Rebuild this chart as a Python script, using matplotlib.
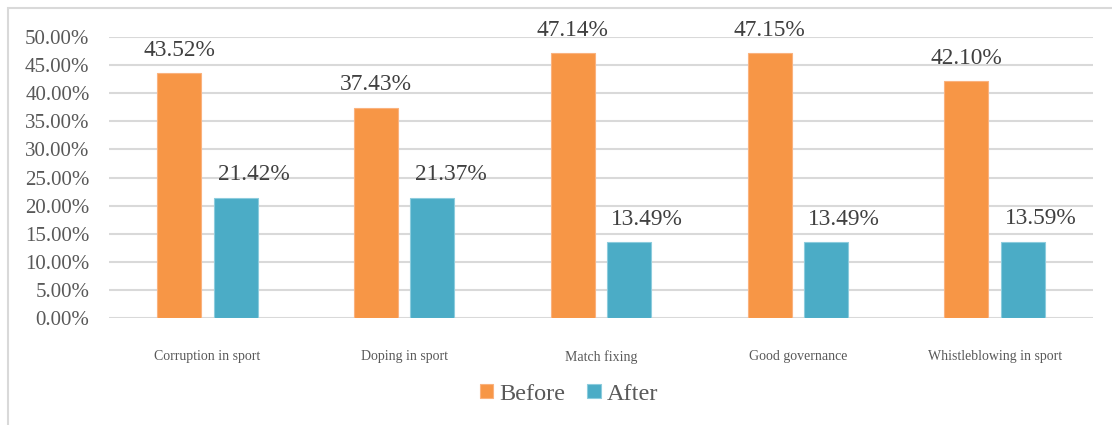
import numpy as np
import matplotlib.pyplot as plt
from matplotlib.patches import Rectangle
from matplotlib.ticker import FuncFormatter

categories = ["Corruption in sport", "Doping in sport", "Match fixing",
              "Good governance", "Whistleblowing in sport"]
before = [43.52, 37.43, 47.14, 47.15, 42.10]
after = [21.42, 21.37, 13.49, 13.49, 13.59]

c_before = "#F79646"
c_after = "#4BACC6"
grid_c = "#D9D9D9"
text_c = "#595959"

plt.rcParams['font.family'] = ['Liberation Serif', 'DejaVu Serif']

fig = plt.figure(figsize=(11.12, 4.25), dpi=100)
# chart frame (left and top edges visible)
fig.patches.append(Rectangle((8 / 1112, -0.1), 1.2, 1 - 8 / 425 + 0.1,
                             transform=fig.transFigure, fill=False,
                             edgecolor=grid_c, linewidth=1.5))

ax = fig.add_axes([109 / 1112, 1 - 318 / 425, 984 / 1112, 281 / 425])
x = np.arange(len(categories))
w = 0.224
off = 0.143
b1 = ax.bar(x - off, before, w, color=c_before, edgecolor="#FAB27E", linewidth=0.8,
            label="Before", zorder=3)
b2 = ax.bar(x + off, after, w, color=c_after, edgecolor="#8CCCDD", linewidth=0.8,
            label="After", zorder=3)

for xi, v in zip(x, before):
    ax.annotate(f"{v:.2f}%", (xi - off, v), xytext=(0, 9), textcoords="offset points",
                ha="center", va="bottom", fontsize=16.8, color="#404040")
for xi, v in zip(x, after):
    ax.annotate(f"{v:.2f}%", (xi + off, v), xytext=(13, 9), textcoords="offset points",
                ha="center", va="bottom", fontsize=16.8, color="#404040")

ax.set_xlim(-0.5, len(categories) - 0.5)
ax.set_ylim(0, 50)
ax.set_yticks(np.arange(0, 51, 5))
ax.yaxis.set_major_formatter(FuncFormatter(lambda v, p: f"{v:.2f}%"))
ax.grid(axis="y", color=grid_c, linewidth=1.5, zorder=0)
ax.set_xticks(x)
ax.set_xticklabels(categories, fontsize=10)
ax.tick_params(axis="x", length=0, pad=23, colors=text_c)
ax.tick_params(axis="y", length=0, pad=14, labelsize=15, colors=text_c)
for s in ax.spines.values():
    s.set_visible(False)

leg = fig.legend(handles=[b1, b2], loc="center", bbox_to_anchor=(569 / 1112, 1 - 394 / 425),
                 ncol=2, frameon=False, fontsize=17.5, handlelength=0.55, handleheight=0.55,
                 handletextpad=0.25, columnspacing=0.9)
for t in leg.get_texts():
    t.set_color(text_c)

fig.savefig("out.png", dpi=100)
